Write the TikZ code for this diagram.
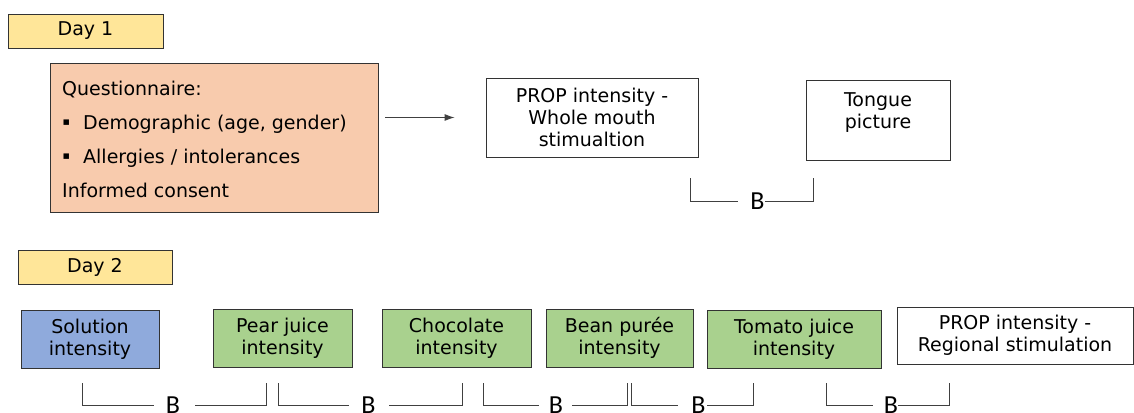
\documentclass[tikz,border=0pt]{standalone}
\usepackage{fontspec}
\setmainfont{DejaVu Sans}
\newfontfamily\bfont{Carlito}
\usetikzlibrary{arrows.meta}
\definecolor{dayyellow}{HTML}{FFE699}
\definecolor{peach}{HTML}{F8CBAD}
\definecolor{solblue}{HTML}{8FAADC}
\definecolor{foodgreen}{HTML}{A9D18E}
\definecolor{edge}{HTML}{333333}
\definecolor{linegray}{HTML}{404040}
\begin{document}
\begin{tikzpicture}[x=1pt,y=-1pt,
  txt/.style={font=\fontsize{19}{22}\selectfont},
  boxed/.style={draw=edge,line width=0.9pt,rectangle,inner sep=0pt,align=center,txt},
  daybox/.style={boxed,fill=dayyellow,minimum height=34pt},
  stepbox/.style={boxed,minimum height=58pt},
  bracket/.style={draw=linegray,line width=0.9pt},
  blabel/.style={font=\bfont\fontsize{26}{26}\selectfont,inner sep=0pt,anchor=center},
  qline/.style={txt,anchor=base west,inner sep=0pt},
  bullet/.style={font=\fontsize{11}{11}\selectfont,anchor=base west,inner sep=0pt}]
\useasboundingbox (0,0) rectangle (1134,412);
% Day 1
\node[daybox,minimum width=155pt] (day1) at (85.5,31) {Day 1};
\node[boxed,fill=peach,minimum width=328pt,minimum height=149pt] (q) at (214,137.5) {};
\node[qline] (q1) at (62,95) {Questionnaire:};
\node[bullet] (q2b) at (62.5,125) {▪};
\node[qline] (q2) at (83,129) {Demographic (age, gender)};
\node[bullet] (q3b) at (62.5,159) {▪};
\node[qline] (q3) at (83,163) {Allergies / intolerances};
\node[qline] (q4) at (62,197) {Informed consent};
\node[boxed,minimum width=212pt,minimum height=79pt] (prop) at (592,117.5) {PROP intensity -\\Whole mouth\\stimualtion};
\node[boxed,minimum width=144pt,minimum height=80pt] (tongue) at (878,120) {};
\node[txt,anchor=north,align=center,inner sep=0pt] (tonguetxt) at (878,92) {Tongue\\picture};
\draw[linegray,line width=0.9pt,-{Latex[length=10pt,width=7pt]}] ([xshift=7pt]q.east |- prop.west) -- ([xshift=-31pt]prop.west);
% top bracket
\node[blabel] (b0) at (757.5,201) {B};
\draw[bracket] (690,178) |- (738,201);
\draw[bracket] (b0.east) -| (813,178);
% Day 2
\node[daybox,minimum width=154pt] (day2) at (95,267) {Day 2};
\node[stepbox,fill=solblue,minimum width=138pt] (sol) at (90,339) {Solution\\intensity};
\node[stepbox,fill=foodgreen,minimum width=139pt] (pear) at (282.5,338) {Pear juice\\intensity};
\node[stepbox,fill=foodgreen,minimum width=149pt] (choc) at (456.5,338) {Chocolate\\intensity};
\node[stepbox,fill=foodgreen,minimum width=147pt] (bean) at (619.5,338) {Bean purée\\intensity};
\node[stepbox,fill=foodgreen,minimum width=174pt] (tom) at (794,339) {Tomato juice\\intensity};
\node[stepbox,minimum width=236pt,minimum height=57pt] (reg) at (1015,335.5) {PROP intensity -\\Regional stimulation};
% bottom brackets
\node[blabel] (b1) at (173,405) {B};
\draw[bracket] (82,383) |- (154,405);
\draw[bracket] (195,405) -| (266,383);
\node[blabel] (b2) at (368.5,405) {B};
\draw[bracket] (278,383) |- (349,405);
\draw[bracket] (389,405) -| (462,383);
\node[blabel] (b3) at (556,405) {B};
\draw[bracket] (483,383) |- (539,405);
\draw[bracket] (572,405) -| (627,383);
\node[blabel] (b4) at (698.5,405) {B};
\draw[bracket] (631,383) |- (678,405);
\draw[bracket] (707,405) -| (753,383);
\node[blabel] (b5) at (891,405) {B};
\draw[bracket] (826,383) |- (873,405);
\draw[bracket] (898,405) -| (949,383);
\end{tikzpicture}
\end{document}
